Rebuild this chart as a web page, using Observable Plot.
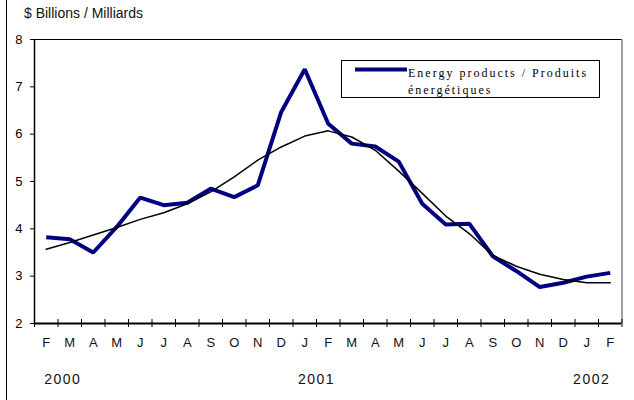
<!DOCTYPE html>
<html><head><meta charset="utf-8">
<script src="https://cdn.jsdelivr.net/npm/d3@7"></script>
<script src="https://cdn.jsdelivr.net/npm/@observablehq/plot@0.6"></script>
<style>body{margin:0;background:#fff;} svg{display:block}</style>
</head><body><div id="chart"></div>
<script>
const months = ["F","M","A","M","J","J","A","S","O","N","D","J","F","M","A","M","J","J","A","S","O","N","D","J","F"];
const years = ["2000","2001","2002"];
const energy = [3.82,3.78,3.50,4.04,4.66,4.50,4.55,4.85,4.67,4.92,6.47,7.37,6.22,5.80,5.74,5.42,4.53,4.09,4.11,3.42,3.11,2.77,2.86,2.99,3.07];
const trend = [3.57,3.71,3.87,4.03,4.20,4.34,4.53,4.78,5.10,5.45,5.73,5.96,6.07,5.94,5.66,5.22,4.75,4.27,3.90,3.44,3.21,3.04,2.93,2.86,2.86];
const yTicks = [2,3,4,5,6,7,8];
const seriesName = ["Energy products / Produits", "énergétiques"];
const title = "$ Billions / Milliards";

const n = months.length;
const idx = d3.range(n);
const bounds = d3.range(n + 1).map(i => i - 0.5);
const jan2001 = 11; // index of first January in the series
const sans = "'Liberation Sans', Arial, sans-serif";

const svg = Plot.plot({
  width: 634, height: 400,
  marginLeft: 34, marginRight: 12.5, marginTop: 39, marginBottom: 77,
  style: {fontFamily: sans, fontSize: "13px", color: "#000", background: "#fff"},
  x: {type: "linear", domain: [-0.5, n - 0.5], axis: null},
  y: {domain: [2, 8], ticks: yTicks, tickSize: 4, tickPadding: 8, label: null, tickFormat: d3.format("d")},
  marks: [
    Plot.ruleY([8], {stroke: "#000", strokeWidth: 1}),
    Plot.ruleX([n - 0.5], {stroke: "#808080", strokeWidth: 1.5}),
    Plot.ruleX([-0.5], {stroke: "#000", strokeWidth: 1.5}),
    Plot.ruleY([2], {stroke: "#000", strokeWidth: 2}),
    Plot.ruleX(bounds, {x: d => d, y1: () => 2, y2: () => 2, insetTop: -4, insetBottom: -4, stroke: "#000", strokeWidth: 1}),
    Plot.text(idx, {x: d => d, text: d => months[d], frameAnchor: "bottom", dy: 23, fontSize: 13, fill: "#111"}),
    Plot.text([years[0]], {x: () => 0, text: d => d, frameAnchor: "bottom", dy: 60, textAnchor: "start", dx: -2, fontSize: 14, fill: "#111"}),
    Plot.text([years[1]], {x: () => jan2001 + 0.5, text: d => d, frameAnchor: "bottom", dy: 60, fontSize: 14, fill: "#111"}),
    Plot.text([years[2]], {x: () => n - 1, text: d => d, frameAnchor: "bottom", dy: 60, textAnchor: "end", dx: 0, fontSize: 14, fill: "#111"}),
    Plot.line(idx, {x: d => d, y: d => energy[d], stroke: "#000080", strokeWidth: 4, strokeLinejoin: "miter", strokeLinecap: "butt"}),
    Plot.line(idx, {x: d => d, y: d => trend[d], stroke: "#000", strokeWidth: 1.5, strokeLinejoin: "round"})
  ]
});

const s = d3.select(svg);
s.selectAll("text").filter(function() { return years.includes(this.textContent); })
  .style("letter-spacing", "1.5px");

// outer left border
s.append("line").attr("x1", 6.5).attr("x2", 6.5).attr("y1", 0).attr("y2", 400)
  .attr("stroke", "#000").attr("stroke-width", 1);

// title
s.append("text").attr("x", 24).attr("y", 18).attr("text-anchor", "start").text(title)
  .style("font-family", sans).style("font-size", "14px").style("letter-spacing", "0px").attr("fill", "#111");

// legend
const lg = s.append("g").attr("text-anchor", "start");
lg.append("rect").attr("x", 341.5).attr("y", 60.5).attr("width", 258).attr("height", 37)
  .attr("fill", "#fff").attr("stroke", "#000").attr("stroke-width", 1);
lg.append("line").attr("x1", 355).attr("x2", 407).attr("y1", 69.5).attr("y2", 69.5)
  .attr("stroke", "#000080").attr("stroke-width", 4);
seriesName.forEach((t, i) => {
  lg.append("text").attr("x", 408).attr("y", 76.5 + i * 17).attr("text-anchor", "start").text(t)
    .style("font-family", "'Liberation Serif', 'Times New Roman', serif")
    .style("font-size", "12px").style("letter-spacing", "2px").attr("fill", "#000");
});

document.getElementById("chart").appendChild(svg);
</script>
</body></html>
